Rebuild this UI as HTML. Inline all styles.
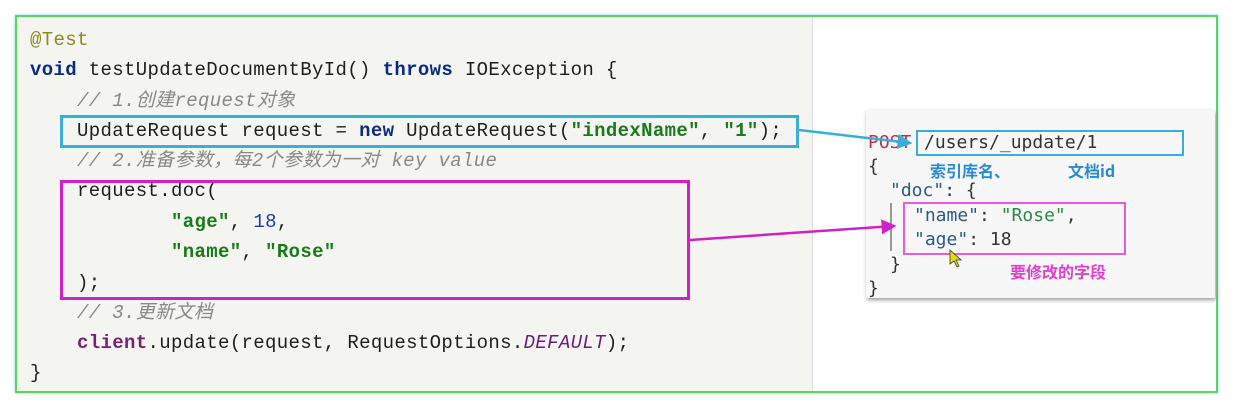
<!DOCTYPE html>
<html><head><meta charset="utf-8"><style>
body{margin:0;width:1234px;height:410px;background:#fff;position:relative;overflow:hidden;font-family:"Liberation Mono","Noto Sans CJK SC",monospace}
.frame{position:absolute;left:15px;top:15px;width:1203px;height:378px;border:2px solid #5ad65a;box-sizing:border-box;box-shadow:0 0 3px #9cf}
.code{position:absolute;left:17px;top:17px;width:795px;height:374px;background:#f4f5f1;border-right:1px solid #ddd}
.l{position:absolute;left:30px;font-size:19px;white-space:pre;color:#1e1e1e;line-height:22px;letter-spacing:0.35px}
.kw{color:#0b2a82;font-weight:bold}.an{color:#8a8a20}.cm{color:#888;font-style:italic}
.st{color:#187a18;font-weight:bold}.nu{color:#1740a8}.pu{color:#7a1e78;font-weight:bold}.it{font-style:italic;color:#6a1e78}
.box{position:absolute;box-sizing:border-box}
.card{position:absolute;left:866px;top:110px;width:349px;height:188px;background:#f7f7f7;box-shadow:1px 2px 4px #999}
.r{position:absolute;font-size:18px;white-space:pre;color:#333;line-height:22px;font-family:"DejaVu Sans Mono",monospace}
.cn{position:absolute;font-family:"Noto Sans CJK SC",sans-serif;font-weight:bold;font-size:16px;line-height:18px}
</style></head><body>
<div class="frame"></div>
<div class="code"></div>
<div class="l an" style="top:29px">@Test</div>
<div class="l" style="top:59px"><span class="kw">void</span> testUpdateDocumentById() <span class="kw">throws</span> IOException {</div>
<div class="l cm" style="top:90px">    // 1.创建request对象</div>
<div class="l" style="top:120px">    UpdateRequest request = <span class="kw">new</span> UpdateRequest(<span class="st">"indexName"</span>, <span class="st">"1"</span>);</div>
<div class="l cm" style="top:150px">    // 2.准备参数，每2个参数为一对 key value</div>
<div class="l" style="top:180px">    request.doc(</div>
<div class="l" style="top:211px">            <span class="st">"age"</span>, <span class="nu">18</span>,</div>
<div class="l" style="top:241px">            <span class="st">"name"</span>, <span class="st">"Rose"</span></div>
<div class="l" style="top:272px">    );</div>
<div class="l cm" style="top:302px">    // 3.更新文档</div>
<div class="l" style="top:332px">    <span class="pu">client</span>.update(request, RequestOptions.<span class="it">DEFAULT</span>);</div>
<div class="l" style="top:362px">}</div>
<div class="box" style="left:60px;top:115px;width:739px;height:33px;border:3px solid #3aaed8"></div>
<div class="box" style="left:60px;top:180px;width:630px;height:120px;border:3px solid #d020c8"></div>
<div class="card"></div>
<div class="r" style="left:868px;top:132px;color:#c0304a">POST</div>
<div class="r" style="left:924px;top:132px">/users/_update/1</div>
<div class="box" style="left:916px;top:130px;width:268px;height:26px;border:2px solid #3aaed8"></div>
<div class="r" style="left:868px;top:156px">{</div>
<div class="cn" style="left:930px;top:161px;color:#2a8ad0">索引库名、</div>
<div class="cn" style="left:1068px;top:161px;color:#2a8ad0">文档id</div>
<div class="r" style="left:890px;top:180px"><span style="color:#2a5a88">"doc"</span>: {</div>
<div style="position:absolute;left:890px;top:203px;width:2px;height:48px;background:#999"></div>
<div class="r" style="left:914px;top:205px"><span style="color:#2a5a88">"name"</span>: <span style="color:#2a8a40">"Rose"</span>,</div>
<div class="r" style="left:914px;top:229px"><span style="color:#2a5a88">"age"</span>: 18</div>
<div class="box" style="left:903px;top:202px;width:223px;height:53px;border:2px solid #e060d8"></div>
<div class="r" style="left:890px;top:254px">}</div>
<div class="cn" style="left:1010px;top:262px;color:#e040d0">要修改的字段</div>
<div class="r" style="left:868px;top:278px">}</div>
<svg width="1234" height="410" style="position:absolute;left:0;top:0">
<defs><marker id="a" markerWidth="6" markerHeight="6" refX="5" refY="3" orient="auto"><path d="M0,0L6,3L0,6z" fill="#3aaed8"/></marker>
<marker id="b" markerWidth="6" markerHeight="6" refX="5" refY="3" orient="auto"><path d="M0,0L6,3L0,6z" fill="#d020c8"/></marker></defs>
<line x1="799" y1="130" x2="910" y2="143" stroke="#3aaed8" stroke-width="2.5" marker-end="url(#a)"/>
<line x1="690" y1="240" x2="894" y2="226" stroke="#d020c8" stroke-width="2.5" marker-end="url(#b)"/>
<path d="M950,250 l0,14 l4,-3 l3,6 l2,-1 l-3,-6 l5,0z" fill="#dde000" stroke="#333" stroke-width=".8"/>
</svg>
</body></html>
